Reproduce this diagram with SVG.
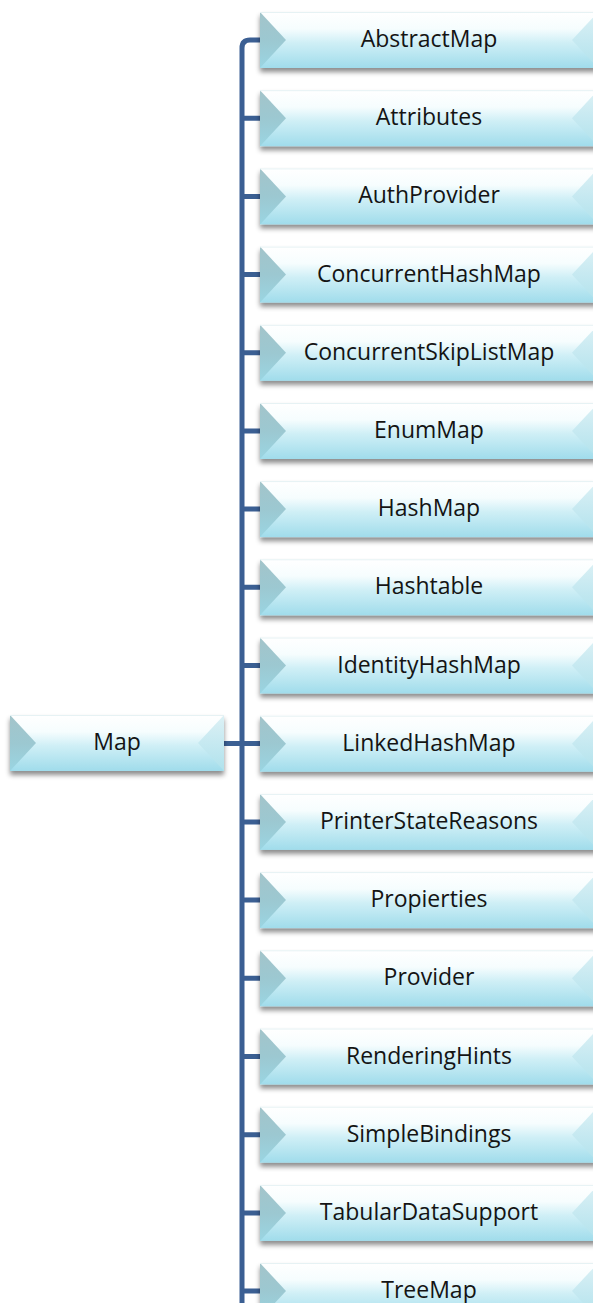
<svg xmlns="http://www.w3.org/2000/svg" xmlns:xlink="http://www.w3.org/1999/xlink" width="593" height="1303" viewBox="0 0 593 1303">
<style>
.lbl{font-family:"Open Sans","Liberation Sans",sans-serif;font-size:23px;fill:#141414;text-anchor:middle}
.con{fill:none;stroke:#3B5F93;stroke-width:5}
</style>
<defs>
<linearGradient id="gFace" x1="0" y1="0" x2="0" y2="1">
<stop offset="0" stop-color="#FFFFFF"/>
<stop offset="0.3" stop-color="#F6FDFE"/>
<stop offset="0.55" stop-color="#CFEFF6"/>
<stop offset="1" stop-color="#A0DCEB"/>
</linearGradient>
<linearGradient id="gLeft" x1="0" y1="0" x2="0" y2="1">
<stop offset="0" stop-color="#A3C4CA"/>
<stop offset="0.5" stop-color="#9CC8D1"/>
<stop offset="1" stop-color="#9AD5E2"/>
</linearGradient>
<linearGradient id="gRight" x1="0" y1="0" x2="0" y2="1">
<stop offset="0" stop-color="#DDF1F5"/>
<stop offset="0.5" stop-color="#C6E9F1"/>
<stop offset="1" stop-color="#B0E2EC"/>
</linearGradient>
<filter id="sh" x="-10%" y="-20%" width="120%" height="160%">
<feDropShadow dx="0" dy="4" stdDeviation="2.5" flood-color="#000" flood-opacity="0.45"/>
</filter>
<g id="rbox">
<rect x="0" y="0" width="338" height="56" fill="url(#gFace)" filter="url(#sh)"/>
<polygon points="0,0 26,28 0,56" fill="url(#gLeft)"/>
<polygon points="338,0 312,28 338,56" fill="url(#gRight)"/>
<line x1="0" y1="0.5" x2="338" y2="0.5" stroke="#E6F2F4" stroke-width="1"/>
</g>
</defs>

<g id="connectors">
<path class="con" d="M260,40 H250 Q242,40 242,48 V1303"/>
<path class="con" d="M224,743.5 H260"/>
<path class="con" d="M242,118.2 H260 M242,196.4 H260 M242,274.6 H260 M242,352.8 H260 M242,431 H260 M242,509.1 H260 M242,587.3 H260 M242,665.5 H260 M242,821.9 H260 M242,900.1 H260 M242,978.3 H260 M242,1056.5 H260 M242,1134.7 H260 M242,1212.9 H260 M242,1291 H260"/>
</g>

<g id="node-map">
<rect x="10" y="715" width="214" height="56" fill="url(#gFace)" filter="url(#sh)"/>
<polygon points="10,715 36,743 10,771" fill="url(#gLeft)"/>
<polygon points="224,715 198,743 224,771" fill="url(#gRight)"/>
<line x1="10" y1="715.5" x2="224" y2="715.5" stroke="#E6F2F4" stroke-width="1"/>
<text class="lbl" x="117" y="750">Map</text>
</g>

<g id="node-abstractmap"><use xlink:href="#rbox" x="260" y="12"/><text class="lbl" x="429" y="47">AbstractMap</text></g>
<g id="node-attributes"><use xlink:href="#rbox" x="260" y="90.2"/><text class="lbl" x="429" y="125.2">Attributes</text></g>
<g id="node-authprovider"><use xlink:href="#rbox" x="260" y="168.4"/><text class="lbl" x="429" y="203.4">AuthProvider</text></g>
<g id="node-concurrenthashmap"><use xlink:href="#rbox" x="260" y="246.6"/><text class="lbl" x="429" y="281.6">ConcurrentHashMap</text></g>
<g id="node-concurrentskiplistmap"><use xlink:href="#rbox" x="260" y="324.8"/><text class="lbl" x="429" y="359.8">ConcurrentSkipListMap</text></g>
<g id="node-enummap"><use xlink:href="#rbox" x="260" y="403"/><text class="lbl" x="429" y="438">EnumMap</text></g>
<g id="node-hashmap"><use xlink:href="#rbox" x="260" y="481.1"/><text class="lbl" x="429" y="516.1">HashMap</text></g>
<g id="node-hashtable"><use xlink:href="#rbox" x="260" y="559.3"/><text class="lbl" x="429" y="594.3">Hashtable</text></g>
<g id="node-identityhashmap"><use xlink:href="#rbox" x="260" y="637.5"/><text class="lbl" x="429" y="672.5">IdentityHashMap</text></g>
<g id="node-linkedhashmap"><use xlink:href="#rbox" x="260" y="715.7"/><text class="lbl" x="429" y="750.7">LinkedHashMap</text></g>
<g id="node-printerstatereasons"><use xlink:href="#rbox" x="260" y="793.9"/><text class="lbl" x="429" y="828.9">PrinterStateReasons</text></g>
<g id="node-propierties"><use xlink:href="#rbox" x="260" y="872.1"/><text class="lbl" x="429" y="907.1">Propierties</text></g>
<g id="node-provider"><use xlink:href="#rbox" x="260" y="950.3"/><text class="lbl" x="429" y="985.3">Provider</text></g>
<g id="node-renderinghints"><use xlink:href="#rbox" x="260" y="1028.5"/><text class="lbl" x="429" y="1063.5">RenderingHints</text></g>
<g id="node-simplebindings"><use xlink:href="#rbox" x="260" y="1106.7"/><text class="lbl" x="429" y="1141.7">SimpleBindings</text></g>
<g id="node-tabulardatasupport"><use xlink:href="#rbox" x="260" y="1184.9"/><text class="lbl" x="429" y="1219.9">TabularDataSupport</text></g>
<g id="node-treemap"><use xlink:href="#rbox" x="260" y="1263"/><text class="lbl" x="429" y="1298">TreeMap</text></g>
</svg>
